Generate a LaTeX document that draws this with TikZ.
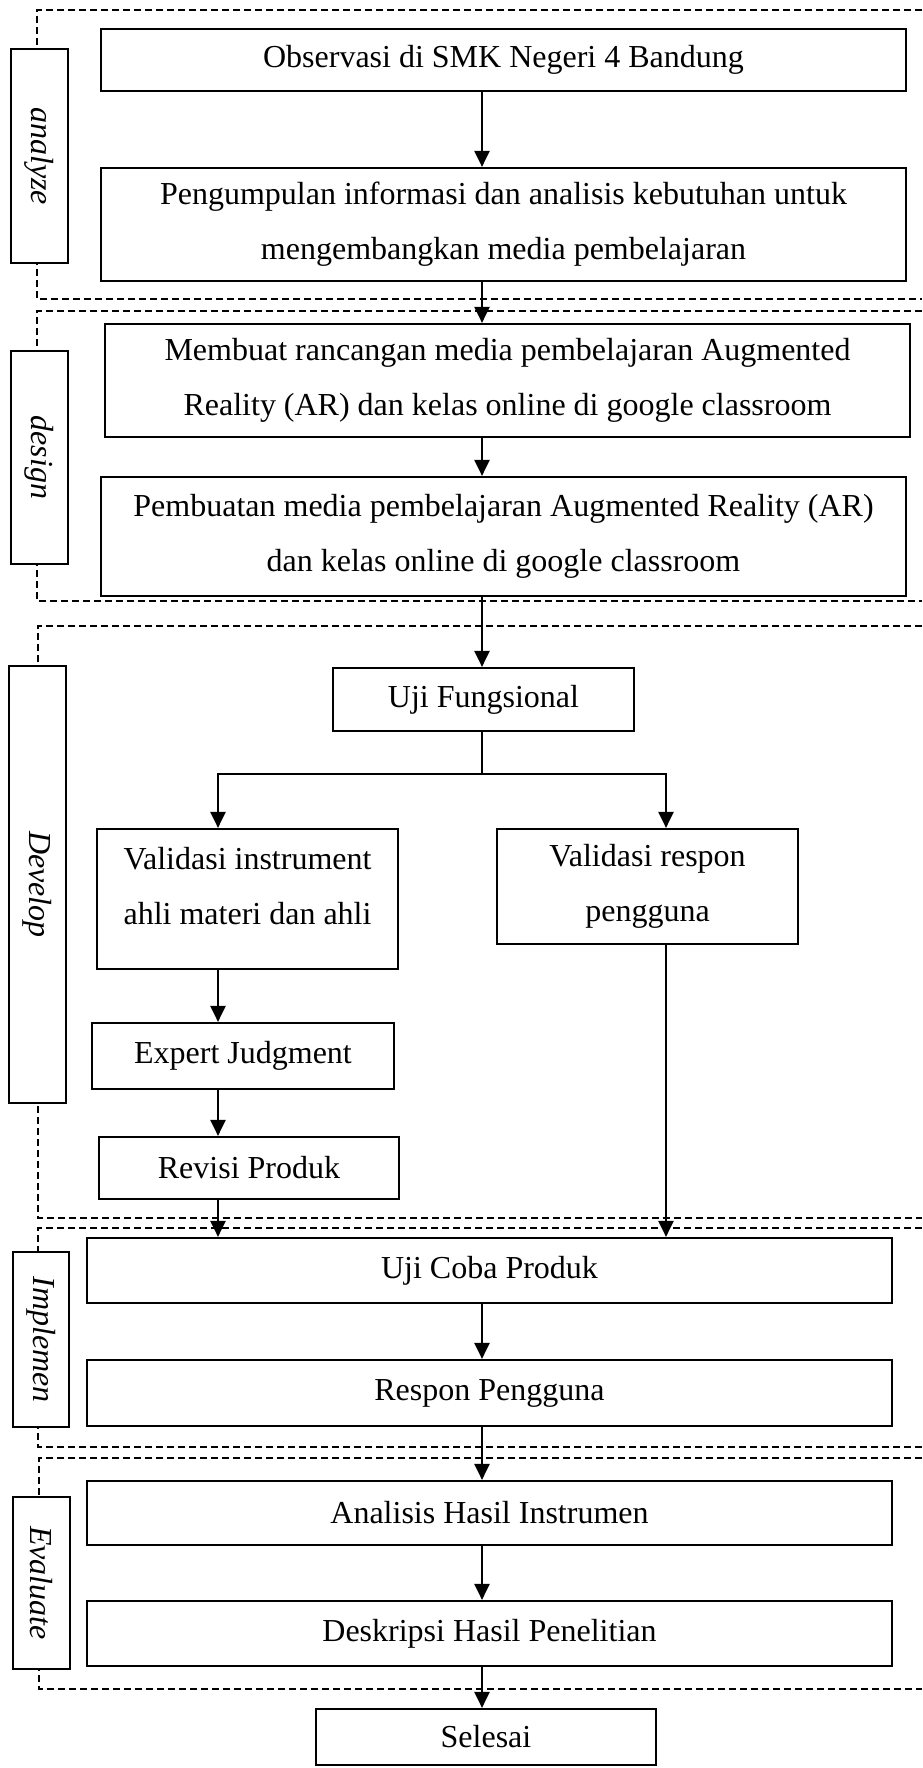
\documentclass[tikz,border=0pt]{standalone}
\usepackage{fontspec}
\setmainfont{Liberation Serif}
\usetikzlibrary{arrows.meta, positioning}

\begin{document}
\begin{tikzpicture}[x=1pt, y=1pt, font=\fontsize{32}{55}\selectfont,
		box/.style={draw, line width=2.2pt, inner sep=0pt, align=center},
		phase/.style={draw, fill=white, line width=2.2pt, inner sep=0pt, rotate=-90, font=\fontsize{32}{40}\selectfont\itshape},
		frame/.style={line width=2pt, dash pattern=on 7pt off 4pt},
		arr/.style={-{Triangle[length=16pt, width=15pt]}, line width=2.2pt}]
	\useasboundingbox (0,0) rectangle (922,-1768);
	% dashed phase frames, open on the right
	\foreach \ytop/\ybot/\xl in {10/299/37, 311/601/37, 626/1218/38, 1228/1447/38, 1458/1689/39} {
		\draw[frame] (922,-\ytop) -- (\xl,-\ytop) -- (\xl,-\ybot) -- (922,-\ybot);
	}
	\foreach \name/\lbl/\x/\y/\len/\thk in {analyze/analyze/39.5/156/214/57, design/design/39.5/457.5/213/57, develop/Develop/37.5/884.5/437/57, implemen/Implemen/41/1339.5/175/56, evaluate/Evaluate/41.5/1583/172/57} {
		\node[phase, minimum width=\len pt, minimum height=\thk pt] (\name) at (\x,-\y) {\lbl};
	}

	% steps
	\node[box, minimum width=805pt, minimum height=62pt] (obs) at (503.5,-60) {Observasi di SMK Negeri 4 Bandung};
	\node[box, minimum width=805pt, minimum height=113pt] (kumpul) at (503.5,-224.5) {Pengumpulan informasi dan analisis kebutuhan untuk\\mengembangkan media pembelajaran};
	\node[box, minimum width=805pt, minimum height=113pt] (rancang) at (507.5,-380.5) {Membuat rancangan media pembelajaran Augmented\\Reality (AR) dan kelas online di google classroom};
	\node[box, minimum width=805pt, minimum height=119pt] (buat) at (503.5,-536.5) {Pembuatan media pembelajaran Augmented Reality (AR)\\dan kelas online di google classroom};
	\node[box, minimum width=301pt, minimum height=63pt] (ujif) at (483.5,-699.5) {Uji Fungsional};
	\node[box, minimum width=301pt, minimum height=140pt, text depth=27pt] (valinst) at (247.5,-899) {Validasi instrument\\ahli materi dan ahli};
	\node[box, minimum width=301pt, minimum height=115pt] (valresp) at (647.5,-886.5) {Validasi respon\\pengguna};
	\node[box, minimum width=302pt, minimum height=66pt] (expert) at (243,-1056) {Expert Judgment};
	\node[box, minimum width=300pt, minimum height=62pt] (revisi) at (249,-1168) {Revisi Produk};
	\node[box, minimum width=805pt, minimum height=65pt] (ujicoba) at (489.5,-1270.5) {Uji Coba Produk};
	\node[box, minimum width=805pt, minimum height=66pt] (respon) at (489.5,-1393) {Respon Pengguna};
	\node[box, minimum width=805pt, minimum height=64pt] (analisis) at (489.5,-1513) {Analisis Hasil Instrumen};
	\node[box, minimum width=805pt, minimum height=65pt] (deskripsi) at (489.5,-1633.5) {Deskripsi Hasil Penelitian};
	\node[box, minimum width=340pt, minimum height=56pt] (selesai) at (486,-1737) {Selesai};

	% flow lines
	\coordinate (mid) at (482,0);
	\coordinate (lft) at (218,0);
	\coordinate (rgt) at (666,0);
	\coordinate (fork) at (482,-774);
	\draw[arr] (obs.south -| mid) -- (kumpul.north -| mid);
	\draw[arr] (kumpul.south -| mid) -- (rancang.north -| mid);
	\draw[arr] (rancang.south -| mid) -- (buat.north -| mid);
	\draw[arr] (buat.south -| mid) -- (ujif.north -| mid);
	\draw[line width=2.2pt] (ujif.south -| fork) -- (fork);
	\draw[arr] (fork) -| (valinst.north -| lft);
	\draw[arr] (fork) -| (valresp.north -| rgt);
	\draw[arr] (valinst.south -| lft) -- (expert.north -| lft);
	\draw[arr] (expert.south -| lft) -- (revisi.north -| lft);
	\draw[arr] (revisi.south -| lft) -- (ujicoba.north -| lft);
	\draw[arr] (valresp.south -| rgt) -- (ujicoba.north -| rgt);
	\draw[arr] (ujicoba.south -| mid) -- (respon.north -| mid);
	\draw[arr] (respon.south -| mid) -- (analisis.north -| mid);
	\draw[arr] (analisis.south -| mid) -- (deskripsi.north -| mid);
	\draw[arr] (deskripsi.south -| mid) -- (selesai.north -| mid);
\end{tikzpicture}
\end{document}
